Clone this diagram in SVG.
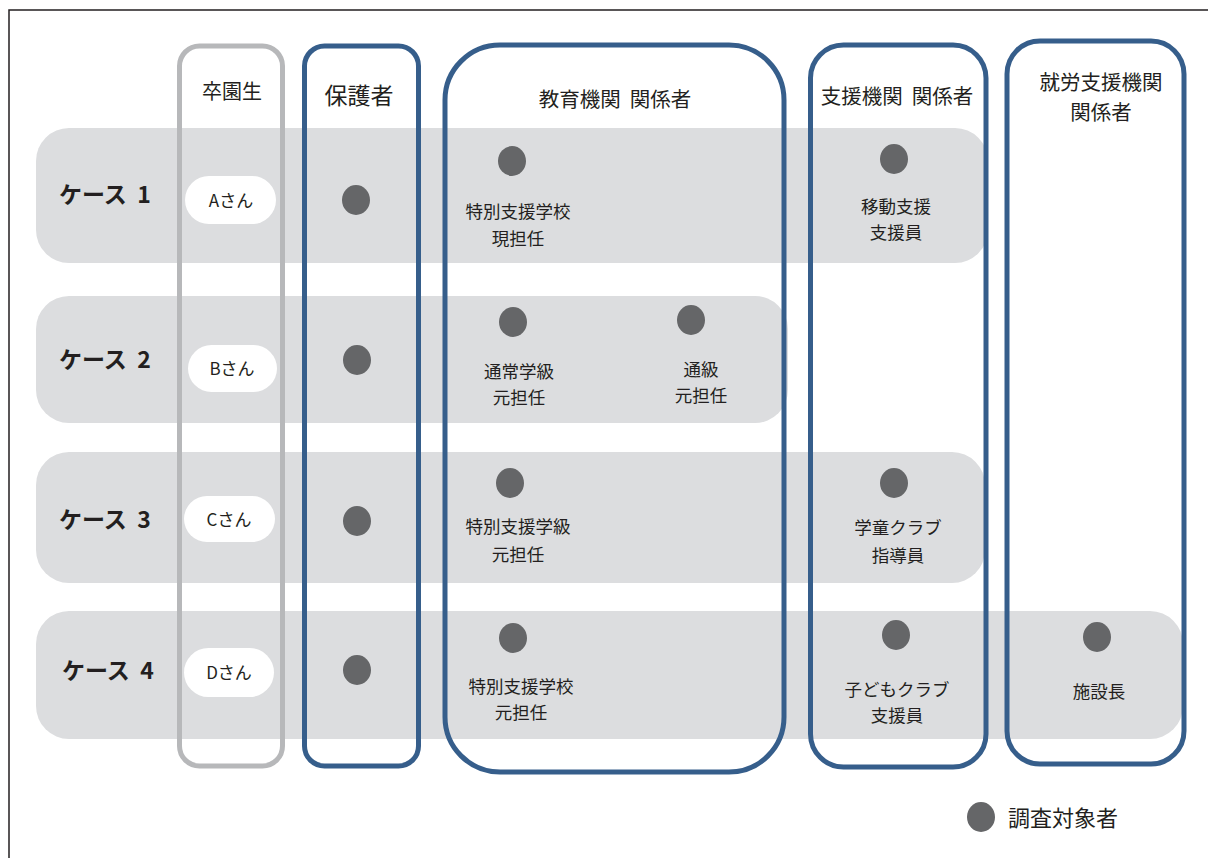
<svg xmlns="http://www.w3.org/2000/svg" width="1208" height="858" viewBox="0 0 1208 858">
<style>
.band{fill:#dcdddf}
.col{fill:none;stroke:#365e8b;stroke-width:5}
.colg{fill:none;stroke:#b7b8ba;stroke-width:5}
.dot{fill:#656668}
.pill{fill:#fff}
text{font-family:"Noto Sans CJK JP","Noto Sans",sans-serif;fill:#231f20;text-anchor:middle;white-space:pre}
.hd{font-size:20.5px}
.lb{font-size:17.5px}
.cs{font-size:23px;font-weight:bold;text-anchor:start}
.nm{font-size:17px}
</style>
<rect width="1208" height="858" fill="#fff"/>
<path d="M9,858 V10 H1208" fill="none" stroke="#231f20" stroke-width="1.5"/>
<g id="bands">
<rect class="band" x="36" y="128" width="952" height="135" rx="33"/>
<rect class="band" x="36" y="296" width="752" height="127" rx="33"/>
<rect class="band" x="36" y="452" width="949" height="131" rx="33"/>
<rect class="band" x="36" y="611" width="1147" height="128" rx="33"/>
</g>
<g id="col-sotsuen">
<rect class="colg" x="179.5" y="46" width="103" height="720" rx="20"/>
<text class="hd" x="232" y="99" style="font-size:20px">卒園生</text>
</g>
<g id="col-hogosha">
<rect class="col" x="304.5" y="46" width="114" height="720" rx="20"/>
<text class="hd" x="359" y="104" style="font-size:23px">保護者</text>
</g>
<g id="col-kyoiku">
<rect class="col" x="445" y="45" width="339" height="727" rx="55"/>
<text class="hd" x="615" y="107">教育機関  関係者</text>
</g>
<g id="col-shien">
<rect class="col" x="810.5" y="45" width="175.5" height="722" rx="33"/>
<text class="hd" x="897" y="104">支援機関  関係者</text>
</g>
<g id="col-shuro">
<rect class="col" x="1007" y="41" width="177" height="723" rx="33"/>
<text class="hd" x="1101" y="90">就労支援機関</text>
<text class="hd" x="1101" y="120">関係者</text>
</g>
<g id="case1">
<text class="cs" x="59" y="203">ケース  1</text>
<rect class="pill" x="185" y="176" width="91" height="48" rx="24"/>
<text class="nm" x="231" y="207">Aさん</text>
<ellipse class="dot" cx="356" cy="200" rx="14" ry="15"/>
<ellipse class="dot" cx="512" cy="161" rx="14" ry="15"/>
<text class="lb" x="518" y="218">特別支援学校</text>
<text class="lb" x="518" y="245">現担任</text>
<ellipse class="dot" cx="894" cy="159" rx="14" ry="15"/>
<text class="lb" x="896" y="213">移動支援</text>
<text class="lb" x="896" y="239">支援員</text>
</g>
<g id="case2">
<text class="cs" x="59" y="368">ケース  2</text>
<rect class="pill" x="188" y="345" width="89" height="47" rx="23.5"/>
<text class="nm" x="232" y="375">Bさん</text>
<ellipse class="dot" cx="357" cy="360" rx="14" ry="15"/>
<ellipse class="dot" cx="513" cy="322" rx="14" ry="15"/>
<text class="lb" x="519" y="378">通常学級</text>
<text class="lb" x="519" y="404">元担任</text>
<ellipse class="dot" cx="691" cy="320" rx="14" ry="15"/>
<text class="lb" x="701" y="376">通級</text>
<text class="lb" x="701" y="402">元担任</text>
</g>
<g id="case3">
<text class="cs" x="59" y="528">ケース  3</text>
<rect class="pill" x="184" y="496" width="91" height="46" rx="23"/>
<text class="nm" x="229" y="526">Cさん</text>
<ellipse class="dot" cx="357" cy="521" rx="14" ry="15"/>
<ellipse class="dot" cx="510" cy="483" rx="14" ry="15"/>
<text class="lb" x="518" y="533">特別支援学級</text>
<text class="lb" x="518" y="561">元担任</text>
<ellipse class="dot" cx="894" cy="483" rx="14" ry="15"/>
<text class="lb" x="898" y="534">学童クラブ</text>
<text class="lb" x="898" y="562">指導員</text>
</g>
<g id="case4">
<text class="cs" x="62" y="679">ケース  4</text>
<rect class="pill" x="184" y="648" width="90" height="49" rx="24.5"/>
<text class="nm" x="229" y="679">Dさん</text>
<ellipse class="dot" cx="357" cy="670" rx="14" ry="15"/>
<ellipse class="dot" cx="513" cy="638" rx="14" ry="15"/>
<text class="lb" x="521" y="693">特別支援学校</text>
<text class="lb" x="521" y="719">元担任</text>
<ellipse class="dot" cx="896" cy="635" rx="14" ry="15"/>
<text class="lb" x="897" y="696">子どもクラブ</text>
<text class="lb" x="897" y="722">支援員</text>
<ellipse class="dot" cx="1097" cy="637" rx="14" ry="15"/>
<text class="lb" x="1099" y="698">施設長</text>
</g>
<g id="legend">
<ellipse class="dot" cx="981" cy="817" rx="14" ry="15"/>
<text x="1008" y="826" style="font-size:22px;text-anchor:start">調査対象者</text>
</g>
<g id="connectors"></g>
</svg>
